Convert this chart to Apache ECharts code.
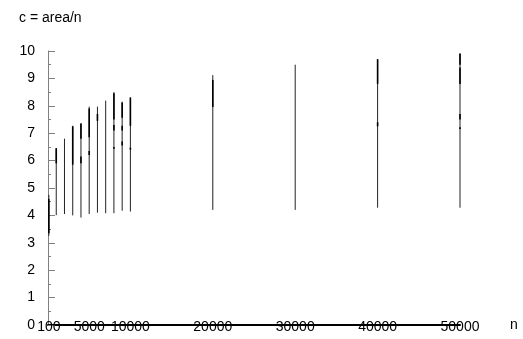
<!DOCTYPE html>
<html>
<head>
<meta charset="utf-8">
<script src="https://cdn.jsdelivr.net/npm/echarts@6/dist/echarts.min.js"></script>
<style>
  html, body { margin: 0; padding: 0; background: #fff; }
  #chart { width: 523px; height: 339px; }
</style>
</head>
<body>
<div id="chart"></div>
<script>
// problem sizes and the spread of c = area/n per size
const nValues = [100, 1000, 2000, 3000, 4000, 5000, 6000, 7000, 8000, 9000, 10000, 20000, 30000, 40000, 50000];
const cMin = [3.25, 4.01, 4.05, 4.0, 3.92, 4.05, 4.1, 4.08, 4.08, 4.17, 4.14, 4.2, 4.2, 4.28, 4.28];
const cMax = [4.75, 6.46, 6.8, 7.27, 7.36, 7.97, 7.97, 8.19, 8.5, 8.15, 8.31, 9.12, 9.5, 9.7, 9.92];

// denser stretches (many runs overlap)
const denseN = [100, 1000, 3000, 4000, 4000, 5000, 5000, 6000, 8000, 8000, 8000, 9000, 9000, 9000, 10000, 10000, 20000, 40000, 40000, 50000, 50000, 50000, 50000];
const denseLo = [3.35, 5.9, 5.85, 6.8, 5.9, 6.85, 6.2, 7.45, 7.5, 7.1, 6.43, 7.56, 7.1, 6.55, 7.27, 6.4, 7.96, 8.8, 7.25, 9.5, 8.8, 7.5, 7.15];
const denseHi = [4.6, 6.45, 7.25, 7.35, 6.15, 7.9, 6.35, 7.7, 8.46, 7.3, 6.5, 8.12, 7.27, 6.7, 8.3, 6.47, 8.94, 9.7, 7.4, 9.9, 9.4, 7.7, 7.22];

const xLabels = [100, 5000, 10000, 20000, 30000, 40000, 50000];

const rangeData = nValues.map((n, i) => [n, cMin[i], cMax[i]]);
const denseData = denseN.map((n, i) => [n, denseLo[i], denseHi[i]]);

function vline(width, color) {
  return function (params, api) {
    const lo = api.coord([api.value(0), api.value(1)]);
    const hi = api.coord([api.value(0), api.value(2)]);
    return {
      type: 'line',
      shape: { x1: lo[0], y1: lo[1], x2: hi[0], y2: hi[1] },
      style: { stroke: color, lineWidth: width }
    };
  };
}

const chart = echarts.init(document.getElementById('chart'));
const font = '"Liberation Sans", Arial, sans-serif';

chart.setOption({
  animation: false,
  backgroundColor: '#fff',
  textStyle: { fontFamily: font },
  title: {
    text: 'c = area/n',
    left: 14,
    top: 6,
    textStyle: { fontSize: 14, fontWeight: 'normal', color: '#000', fontFamily: font }
  },
  grid: { left: 48, right: 63, top: 51, bottom: 14 },
  xAxis: {
    type: 'value',
    min: 0,
    max: 50000,
    name: 'n',
    nameLocation: 'end',
    nameGap: 50,
    nameTextStyle: { fontSize: 14, color: '#000', verticalAlign: 'middle', padding: [3, 0, 0, 0] },
    axisLine: { show: true, onZero: false, lineStyle: { color: '#000', width: 2 } },
    axisTick: { show: false },
    splitLine: { show: false },
    axisLabel: {
      customValues: xLabels,
      formatter: v => String(v),
      margin: 2,
      verticalAlign: 'middle',
      fontSize: 14,
      color: '#000'
    }
  },
  yAxis: {
    type: 'value',
    min: 0,
    max: 10,
    interval: 1,
    axisLine: { show: true, lineStyle: { color: '#808080', width: 1 } },
    axisTick: { show: true, inside: true, length: 7, lineStyle: { color: '#808080' } },
    minorTick: { show: true, splitNumber: 2, length: 3, lineStyle: { color: '#808080' } },
    splitLine: { show: false },
    axisLabel: { margin: 13, fontSize: 14, color: '#000' }
  },
  series: [
    {
      type: 'custom',
      renderItem: vline(1, '#222'),
      encode: { x: 0, y: [1, 2] },
      data: rangeData
    },
    {
      type: 'custom',
      renderItem: vline(1.6, '#000'),
      encode: { x: 0, y: [1, 2] },
      data: denseData
    }
  ]
});
</script>
</body>
</html>
